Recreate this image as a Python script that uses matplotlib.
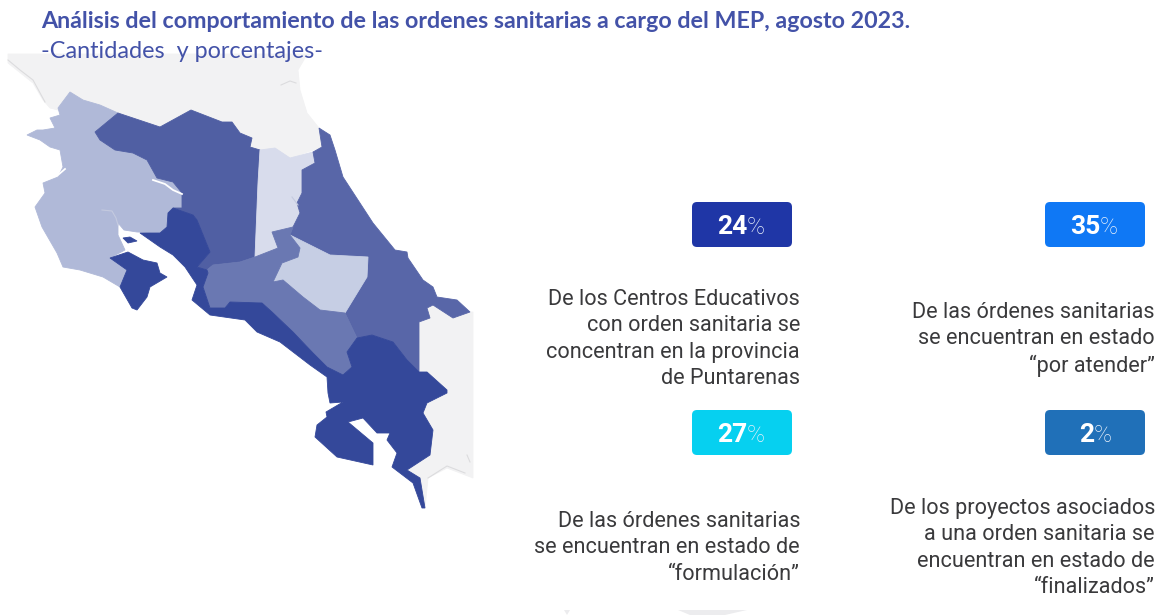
import matplotlib
matplotlib.use("Agg")
import matplotlib.pyplot as plt
from matplotlib.patches import FancyBboxPatch, Polygon

title = "Análisis del comportamiento de las ordenes sanitarias a cargo del MEP, agosto 2023."
subtitle = "-Cantidades  y porcentajes-"

# region outlines, in image pixels
nicaragua = [(8, 54), (310, 54), (305, 58), (298, 70), (300, 90), (307, 113), (319, 128), (322, 147),
             (290, 158), (275, 148), (260, 150), (250, 147), (252, 138), (240, 133), (232, 122),
             (222, 122), (191, 110), (160, 127), (118, 113), (100, 105), (83, 100), (70, 92), (58, 110),
             (50, 108), (43, 100), (33, 83), (23, 75), (8, 63)]
panama = [(419, 322), (430, 318), (427, 308), (433, 305), (453, 318), (468, 312), (473, 312), (473, 478),
          (447, 468), (428, 478), (425, 508), (420, 478), (407, 470), (430, 455), (433, 430), (423, 413),
          (427, 403), (447, 393), (447, 390), (427, 372), (419, 372)]
guanacaste = [(70, 92), (83, 100), (100, 105), (118, 113), (95, 132), (100, 140), (115, 150), (133, 153),
              (147, 160), (157, 178), (173, 182), (182, 193), (182, 208), (173, 208), (168, 213), (167, 227),
              (160, 233), (137, 232), (124, 230), (118, 223), (118, 235), (125, 250), (110, 258), (127, 270),
              (120, 287), (103, 277), (80, 270), (63, 267), (57, 253), (42, 227), (35, 207), (45, 193),
              (43, 183), (58, 177), (63, 167), (60, 150), (50, 147), (40, 140), (27, 135), (37, 130),
              (43, 130), (55, 128), (50, 118), (60, 115), (58, 108)]
alajuela = [(118, 113), (160, 127), (191, 110), (222, 122), (232, 122), (240, 133), (252, 138), (250, 147),
            (260, 150), (258, 183), (255, 257), (240, 262), (213, 265), (207, 270), (197, 267), (210, 252),
            (197, 220), (193, 215), (173, 208), (182, 208), (182, 193), (173, 182), (157, 178), (147, 160),
            (133, 153), (115, 150), (100, 140), (95, 132)]
heredia = [(260, 150), (275, 148), (290, 158), (313, 152), (315, 163), (302, 170), (302, 193), (297, 203),
           (300, 213), (293, 227), (272, 232), (278, 248), (255, 257), (258, 183)]
limon = [(319, 128), (322, 147), (313, 152), (315, 163), (302, 170), (302, 193), (297, 203), (300, 213),
         (293, 227), (290, 235), (330, 255), (368, 257), (367, 277), (345, 313), (357, 338), (372, 335),
         (393, 342), (407, 360), (419, 372), (419, 322), (430, 318), (427, 308), (433, 305), (453, 318),
         (470, 312), (457, 300), (437, 297), (433, 287), (423, 280), (408, 258), (407, 252), (395, 250),
         (373, 223), (343, 177), (335, 150), (330, 135)]
cartago = [(290, 235), (330, 255), (368, 257), (367, 277), (345, 313), (320, 310), (303, 297), (283, 280),
           (273, 282), (282, 263), (298, 257), (300, 248)]
san_jose = [(272, 232), (293, 227), (290, 235), (300, 248), (298, 257), (282, 263), (273, 282), (283, 280),
            (303, 297), (320, 310), (345, 313), (357, 338), (347, 352), (352, 367), (343, 375), (327, 367),
            (313, 353), (293, 332), (272, 312), (262, 303), (230, 302), (225, 308), (210, 308), (203, 287),
            (208, 273), (207, 270), (213, 265), (240, 262), (255, 257), (278, 248)]
nicoya_tip = [(110, 258), (128, 252), (143, 260), (157, 263), (160, 273), (167, 277), (150, 287), (147, 297),
              (137, 310), (132, 308), (120, 287), (127, 270)]
puntarenas = [(140, 233), (160, 233), (167, 227), (168, 213), (173, 208), (193, 215), (197, 220), (210, 252),
              (197, 267), (207, 270), (208, 273), (203, 287), (210, 308), (225, 308), (230, 302), (262, 303),
              (272, 312), (293, 332), (313, 353), (327, 367), (343, 375), (352, 367), (347, 352), (357, 338),
              (372, 335), (393, 342), (407, 360), (419, 372), (427, 372), (447, 390), (447, 393), (427, 403),
              (423, 413), (433, 430), (430, 455), (407, 470), (420, 478), (425, 508), (422, 508), (413, 483),
              (392, 467), (397, 453), (387, 440), (390, 433), (377, 433), (363, 418), (348, 422), (373, 443),
              (373, 465), (337, 457), (315, 437), (317, 425), (327, 417), (326, 412), (343, 402), (330, 403),
              (328, 393), (327, 377), (310, 365), (280, 342), (257, 332), (245, 320), (210, 315), (192, 300),
              (197, 285), (185, 267), (173, 255), (160, 247)]
chira = [(123, 238), (130, 237), (137, 241), (128, 243)]
bottom_bits = [[(564, 610), (570, 610), (567, 615)], [(678, 610), (747, 610), (725, 615), (690, 615)]]

regions = [nicaragua, panama, guanacaste, alajuela, heredia, limon, cartago, san_jose, nicoya_tip, puntarenas, chira]
region_colors = ["#f2f2f3", "#f2f2f3", "#b0b9d8", "#505fa3", "#d8dcec", "#5866a8", "#c6cee4", "#6a78b2",
                 "#34489a", "#34489a", "#34489a"]

# thin rivers and border traces on the map
white_lines = [[(153, 180), (165, 184), (173, 190), (182, 194)], [(58, 175), (65, 169)]]
grey_lines = [[(8, 60), (20, 70), (33, 80), (45, 102)], [(281, 85), (290, 81), (296, 83)],
              [(467, 455), (470, 462)], [(428, 478), (447, 466), (465, 473)]]
blue_grey_lines = [[(102, 210), (112, 211), (116, 218), (118, 225)], [(292, 197), (298, 205)]]

percent_values = ["24", "35", "27", "2"]
badge_colors = ["#1f36a6", "#0f78f5", "#06d0f0", "#2070b8"]
badge_lefts = [692, 1045, 692, 1045]
badge_tops = [202, 202, 410, 410]
descriptions = [
    "De los Centros Educativos\ncon orden sanitaria se\nconcentran en la provincia\nde Puntarenas",
    "De las órdenes sanitarias\nse encuentran en estado\n“por atender”",
    "De las órdenes sanitarias\nse encuentran en estado de\n“formulación”",
    "De los proyectos asociados\na una orden sanitaria se\nencuentran en estado de\n“finalizados”",
]
desc_rights = [800, 1155, 800, 1155]
desc_tops = [289, 302, 511, 498]

fig = plt.figure(figsize=(11.63, 6.15), dpi=100)
ax = fig.add_axes([0, 0, 1, 1])
ax.set_xlim(0, 1163)
ax.set_ylim(615, 0)
ax.axis("off")

for pts, col in zip(regions, region_colors):
    ax.add_patch(Polygon(pts, closed=True, facecolor=col, edgecolor=col, linewidth=0.6))
for pts in bottom_bits:
    ax.add_patch(Polygon(pts, closed=True, facecolor="#ececee", edgecolor="none"))
for line in white_lines:
    ax.plot(*zip(*line), color="white", lw=1.3)
for line in grey_lines:
    ax.plot(*zip(*line), color="#dcdcde", lw=0.8)
for line in blue_grey_lines:
    ax.plot(*zip(*line), color="#c4cadf", lw=0.8)

ax.text(41, 22, title, fontsize=16.75, fontweight="bold", family="Lato", color="#4352a8", va="center")
ax.text(41, 51, subtitle, fontsize=16.8, family="Lato", color="#4352a8", va="center")

for val, col, left, top in zip(percent_values, badge_colors, badge_lefts, badge_tops):
    ax.add_patch(FancyBboxPatch((left + 3, top + 3), 94, 39, boxstyle="round,pad=3,rounding_size=5",
                                facecolor=col, edgecolor="none"))
    mid = left + 55
    if val == "2":
        mid = left + 49
    ax.text(mid, top + 25, val, fontsize=19, fontweight="bold", family="Roboto", color="white",
            ha="right", va="center")
    ax.text(mid, top + 25, "%", fontsize=17.5, fontweight="light", family="Roboto", color="#e8f0fa",
            ha="left", va="center")

for txt, right, top in zip(descriptions, desc_rights, desc_tops):
    ax.text(right, top, txt, fontsize=15.6, family="Roboto", color="#3a3a3c", ha="right", va="top",
            linespacing=1.33)

fig.savefig("out.png", dpi=100)
